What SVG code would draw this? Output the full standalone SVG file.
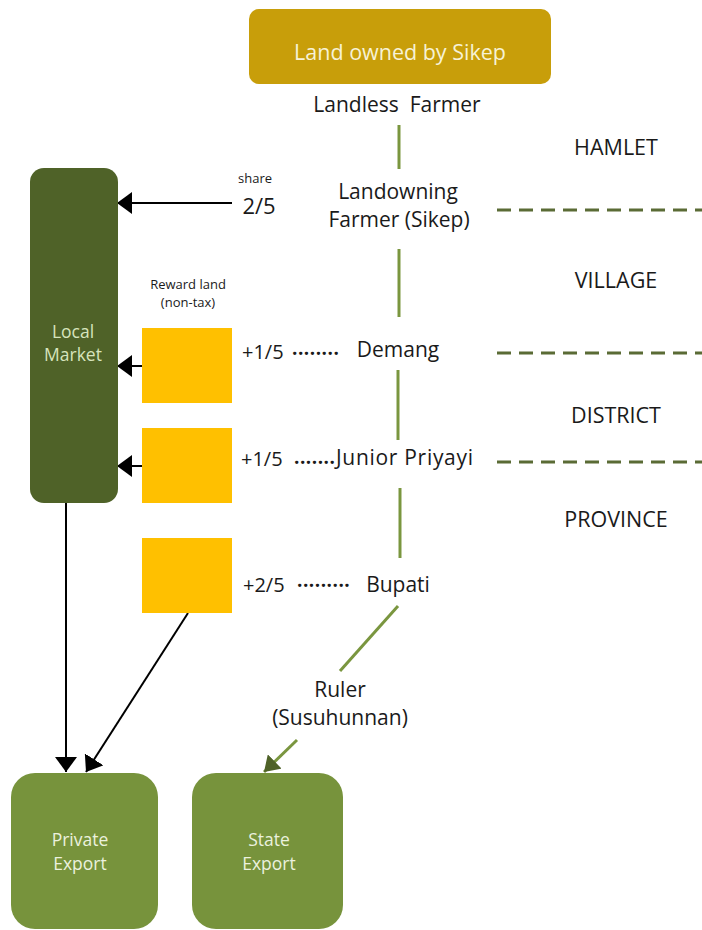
<svg xmlns="http://www.w3.org/2000/svg" width="702" height="930" viewBox="0 0 702 930">
<defs>
<style>
text{font-family:"Open Sans","Liberation Sans",sans-serif;}
.lbl{font-size:21px;fill:#1a1a1a;text-anchor:middle;}
.lvl{font-size:21.5px;fill:#1a1a1a;text-anchor:middle;}
.small{font-size:13px;fill:#1a1a1a;text-anchor:middle;}
.frac{font-size:20px;fill:#1a1a1a;}
.dots{font-size:19px;fill:#1a1a1a;font-weight:bold;}
.boxt{font-size:17.5px;text-anchor:middle;}
.gl{stroke:#7a963f;stroke-width:3;fill:none;}
.dash{stroke:#5a6b35;stroke-width:3;stroke-dasharray:14 8;fill:none;}
.blk{stroke:#000;stroke-width:2;fill:none;}
.yel{fill:#FFC000;}
</style>
<marker id="ah" markerWidth="16" markerHeight="22" refX="15" refY="11" orient="auto" markerUnits="userSpaceOnUse">
<path d="M0,0 L15,11 L0,22 z" fill="#000"/>
</marker>
<marker id="ahg" markerWidth="16" markerHeight="20" refX="15" refY="10" orient="auto" markerUnits="userSpaceOnUse">
<path d="M0,0 L15,10 L0,20 z" fill="#4f6228"/>
</marker>
</defs>

<g id="connectors">
<line class="gl" x1="399" y1="125" x2="399" y2="169"/>
<line class="gl" x1="399" y1="249" x2="399" y2="317"/>
<line class="gl" x1="398" y1="370" x2="398" y2="440"/>
<line class="gl" x1="400" y1="488" x2="400" y2="558"/>
<line class="gl" x1="398" y1="606" x2="340" y2="671"/>
<line class="gl" x1="297" y1="740" x2="264" y2="772" marker-end="url(#ahg)"/>
<line class="dash" x1="497" y1="210" x2="702" y2="210"/>
<line class="dash" x1="497" y1="353" x2="702" y2="353"/>
<line class="dash" x1="497" y1="462" x2="702" y2="462"/>
<line class="blk" x1="232" y1="203" x2="117" y2="203" marker-end="url(#ah)"/>
<line class="blk" x1="142" y1="366" x2="117" y2="366" marker-end="url(#ah)"/>
<line class="blk" x1="142" y1="466" x2="117" y2="466" marker-end="url(#ah)"/>
<line class="blk" x1="66" y1="503" x2="66" y2="772" marker-end="url(#ah)"/>
<line class="blk" x1="188" y1="613" x2="86" y2="772" marker-end="url(#ah)"/>
</g>

<g id="land-owned">
<rect x="249" y="9" width="302" height="75" rx="10" fill="#C89E0A"/>
<text x="400" y="60" text-anchor="middle" font-size="21.5" fill="#f7f2d6">Land owned by Sikep</text>
</g>

<g id="landless-farmer"><text class="lbl" x="397" y="112" xml:space="preserve">Landless  Farmer</text></g>
<g id="landowning-farmer">
<text class="lbl" x="398" y="199">Landowning</text>
<text class="lbl" x="399" y="227">Farmer (Sikep)</text>
</g>

<g id="levels">
<text class="lvl" x="616" y="155">HAMLET</text>
<text class="lvl" x="616" y="288">VILLAGE</text>
<text class="lvl" x="616" y="423">DISTRICT</text>
<text class="lvl" x="616" y="527">PROVINCE</text>
</g>

<g id="local-market">
<rect x="30" y="168" width="88" height="335" rx="14" fill="#4F6228"/>
<text class="boxt" x="73" y="338" fill="#d7e4bd">Local</text>
<text class="boxt" x="73" y="361" fill="#d7e4bd">Market</text>
</g>

<g id="share">
<text class="small" x="255" y="183">share</text>
<text x="259" y="214" font-size="22" fill="#1a1a1a" text-anchor="middle">2/5</text>
</g>

<g id="reward-land">
<text class="small" x="188" y="289">Reward land</text>
<text class="small" x="188" y="307">(non-tax)</text>
</g>

<g id="reward-1"><rect class="yel" x="142" y="328" width="90" height="75"/></g>
<g id="reward-2"><rect class="yel" x="142" y="428" width="90" height="75"/></g>
<g id="reward-3"><rect class="yel" x="142" y="538" width="90" height="75"/></g>

<g id="demang">
<text class="frac" x="242" y="359">+1/5</text>
<text class="dots" x="292" y="355" letter-spacing="0.5">........</text>
<text class="lbl" x="398" y="357">Demang</text>
</g>
<g id="junior-priyayi">
<text class="frac" x="241" y="466">+1/5</text>
<text class="dots" x="294" y="464" letter-spacing="0.5">.......</text>
<text x="336" y="465" font-size="21" fill="#1a1a1a" textLength="137" lengthAdjust="spacing">Junior Priyayi</text>
</g>
<g id="bupati">
<text class="frac" x="243" y="592">+2/5</text>
<text class="dots" x="297" y="587" letter-spacing="0.5">.........</text>
<text class="lbl" x="398" y="592">Bupati</text>
</g>
<g id="ruler">
<text class="lbl" x="340" y="697">Ruler</text>
<text class="lbl" x="340" y="725">(Susuhunnan)</text>
</g>

<g id="private-export">
<rect x="11" y="773" width="147" height="156" rx="24" fill="#77933C"/>
<text class="boxt" x="80" y="846" fill="#ebf1de">Private</text>
<text class="boxt" x="80" y="870" fill="#ebf1de">Export</text>
</g>
<g id="state-export">
<rect x="192" y="773" width="151" height="156" rx="24" fill="#77933C"/>
<text class="boxt" x="269" y="846" fill="#ebf1de">State</text>
<text class="boxt" x="269" y="870" fill="#ebf1de">Export</text>
</g>
</svg>
